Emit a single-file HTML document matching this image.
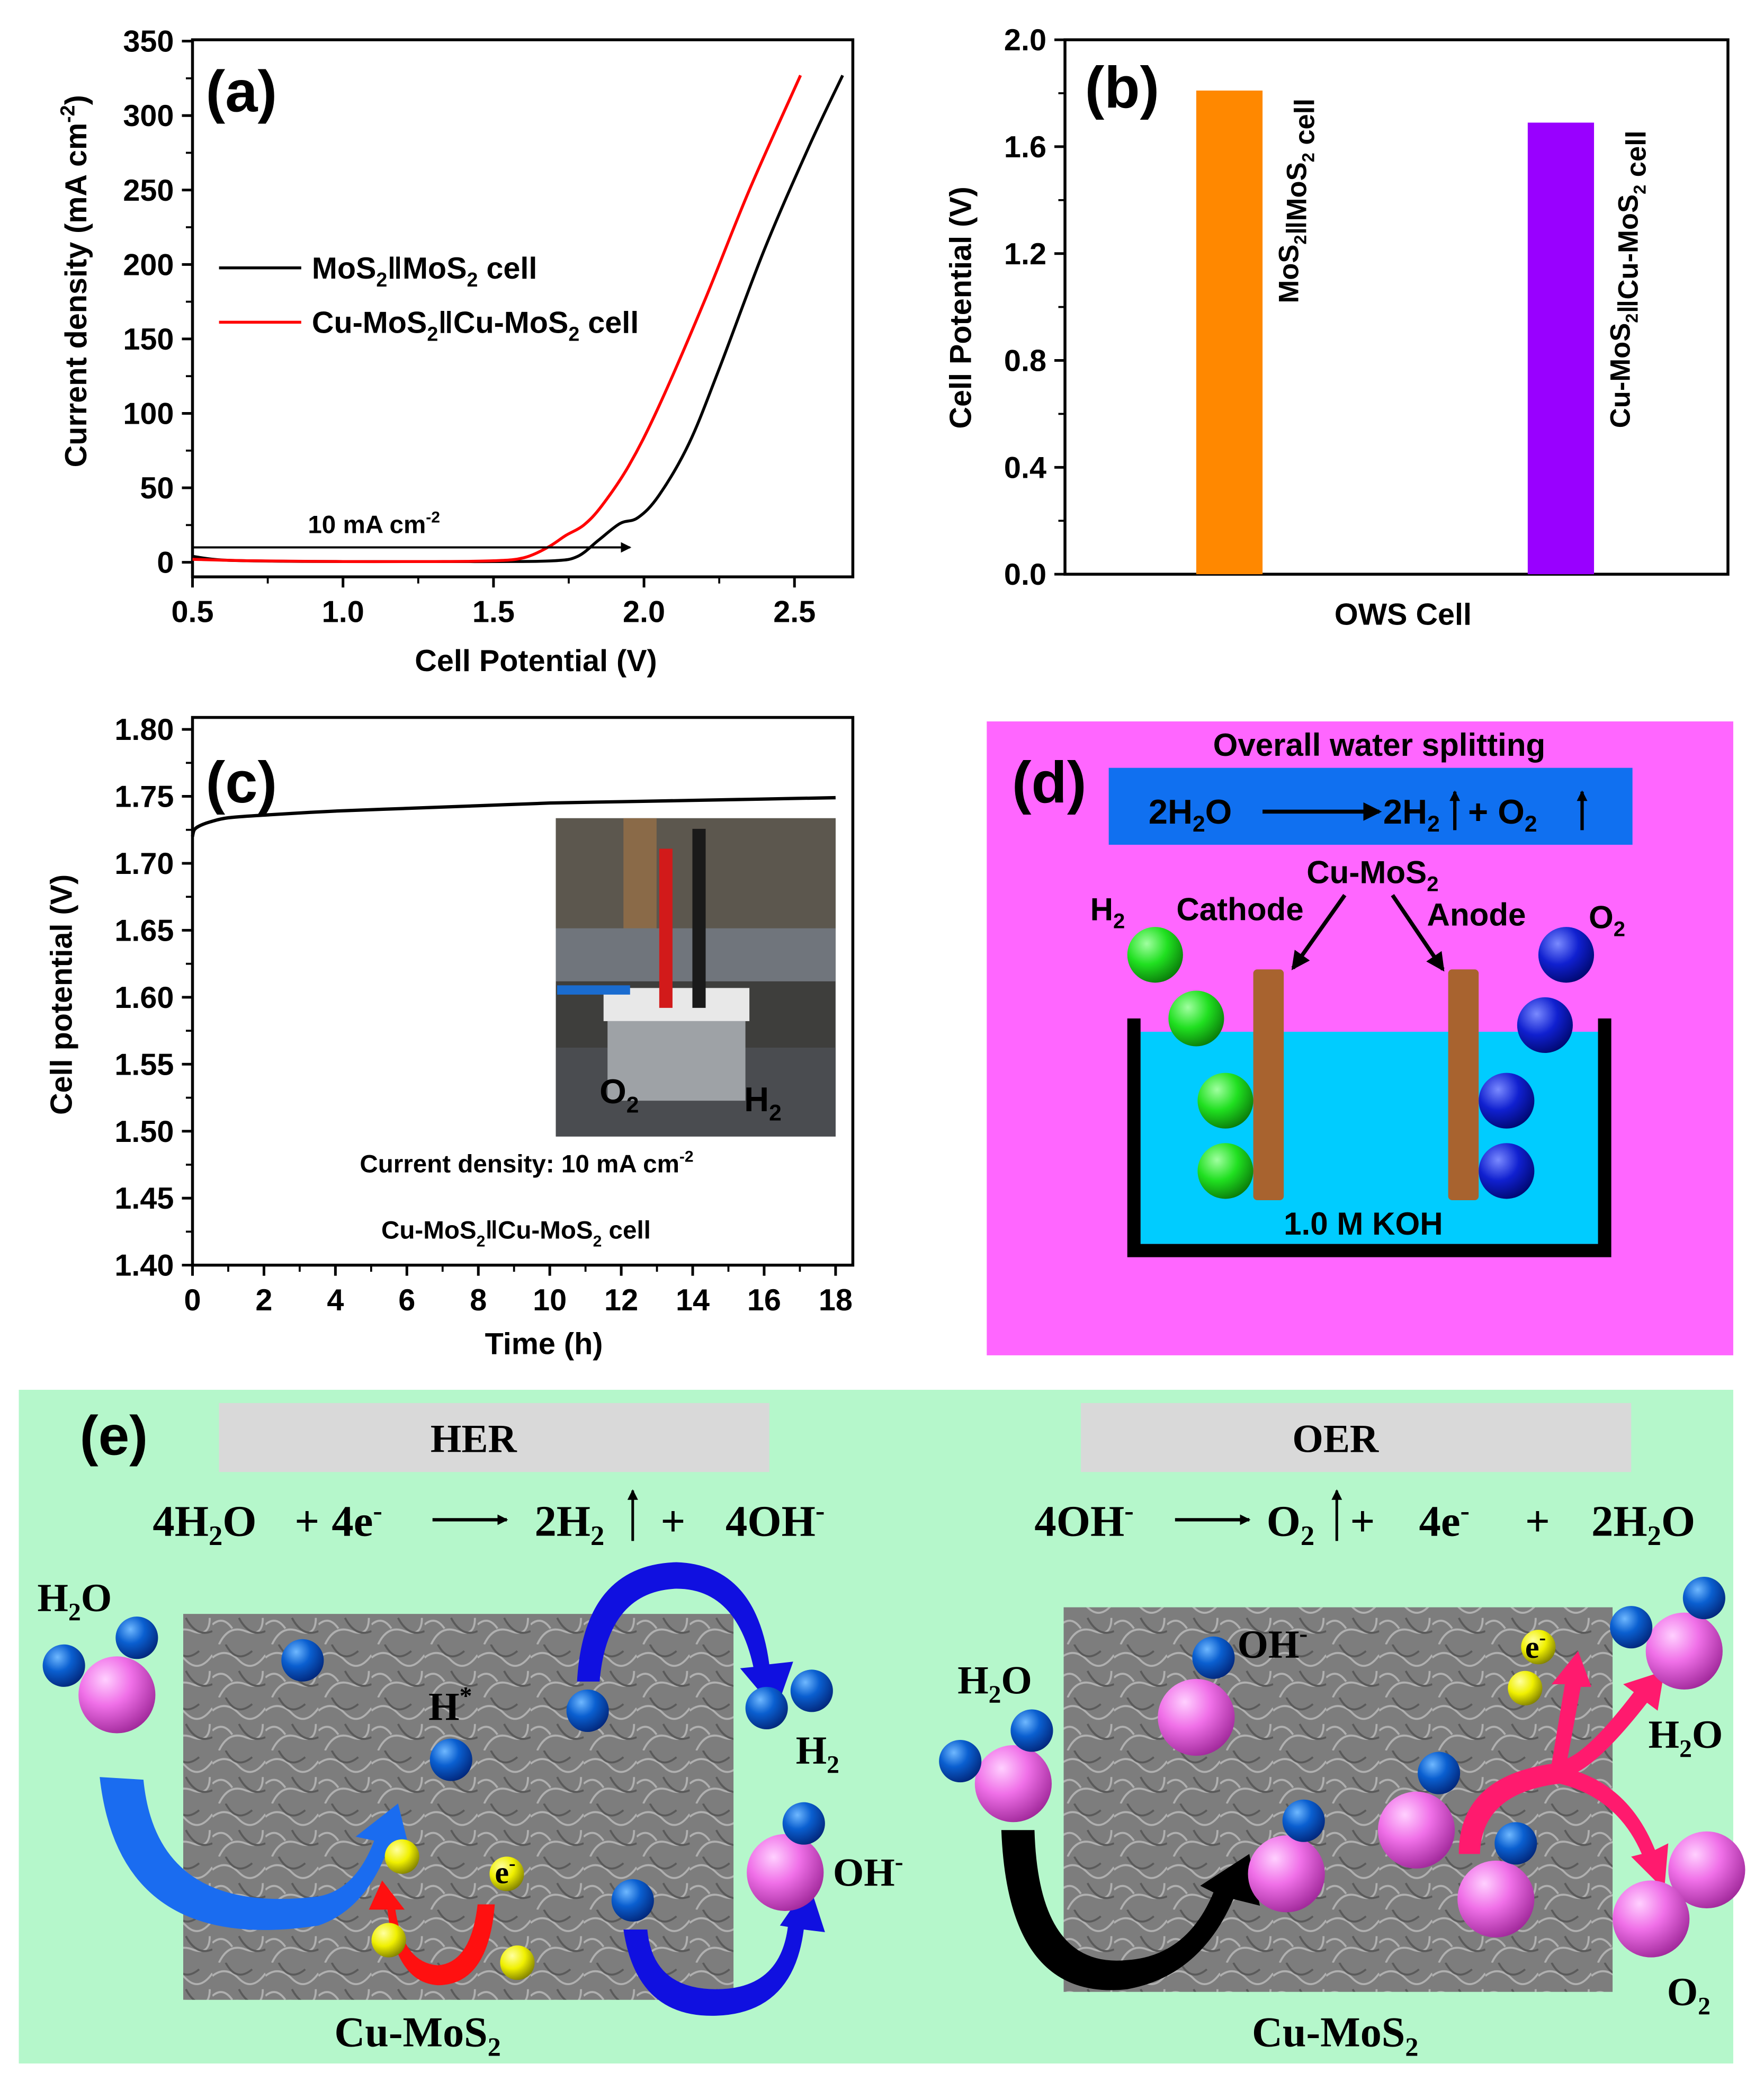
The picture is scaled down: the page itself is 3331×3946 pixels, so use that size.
<!DOCTYPE html>
<html><head><meta charset="utf-8"><style>
html,body{margin:0;padding:0;background:#fff}
svg{display:block}
text{font-family:"Liberation Sans",sans-serif}
.ser{font-family:"Liberation Serif",serif;font-weight:bold}
.b{font-weight:bold}
</style></head><body>
<svg id="fig" width="3331" height="3946" viewBox="0 0 1330 1576" xmlns="http://www.w3.org/2000/svg">
<defs>
<radialGradient id="gBlue" cx="0.35" cy="0.3" r="0.75"><stop offset="0" stop-color="#6fb8ff"/><stop offset="0.45" stop-color="#0a5fd0"/><stop offset="1" stop-color="#02267a"/></radialGradient>
<radialGradient id="gPink" cx="0.35" cy="0.3" r="0.75"><stop offset="0" stop-color="#ffd0ff"/><stop offset="0.45" stop-color="#f070e8"/><stop offset="1" stop-color="#a0289a"/></radialGradient>
<radialGradient id="gYel" cx="0.35" cy="0.3" r="0.75"><stop offset="0" stop-color="#ffffa0"/><stop offset="0.5" stop-color="#f0f000"/><stop offset="1" stop-color="#808000"/></radialGradient>
<radialGradient id="gGreen" cx="0.35" cy="0.3" r="0.75"><stop offset="0" stop-color="#a0ffa0"/><stop offset="0.5" stop-color="#20e020"/><stop offset="1" stop-color="#0a7a0a"/></radialGradient>
<radialGradient id="gDBlue" cx="0.35" cy="0.3" r="0.75"><stop offset="0" stop-color="#7a8aff"/><stop offset="0.5" stop-color="#1020d0"/><stop offset="1" stop-color="#000870"/></radialGradient>
<pattern id="sem" width="40" height="40" patternUnits="userSpaceOnUse">
<rect width="40" height="40" fill="#7d7d7d"/>
<path d="M0 10 Q10 2 20 12 T40 8 M5 40 Q12 25 25 30 T38 20 M0 25 Q8 18 15 28" stroke="#b0b0b0" stroke-width="1.5" fill="none"/>
<path d="M10 0 Q18 15 30 5 M20 20 Q28 35 40 30" stroke="#5a5a5a" stroke-width="1.5" fill="none"/>
</pattern>
<marker id="ah" markerWidth="8" markerHeight="8" refX="7" refY="4" orient="auto" markerUnits="userSpaceOnUse"><path d="M0 0 L8 4 L0 8 Z" fill="#000"/></marker>
<marker id="ahb" markerWidth="14" markerHeight="14" refX="12" refY="7" orient="auto" markerUnits="userSpaceOnUse"><path d="M0 0 L14 7 L0 14 Z" fill="#000"/></marker>
</defs>
<g id="pa"></g>
<g id="pb"></g>
<g id="pc"></g>

<!-- Panel d -->
<g>
<rect x="744" y="544" width="563" height="478" fill="#ff66ff"/>
<text x="763" y="605" font-size="44" class="b">(d)</text>
<text x="1040" y="570" font-size="24" class="b" text-anchor="middle">Overall water splitting</text>
<rect x="836" y="579" width="395" height="58" fill="#1070f0"/>
<text x="866" y="621" font-size="26" class="b">2H<tspan font-size="17" dy="6">2</tspan><tspan dy="-6">O</tspan></text>
<line x1="952" y1="612" x2="1040" y2="612" stroke="#000" stroke-width="3" marker-end="url(#ahb)"/>
<text x="1043" y="621" font-size="26" class="b">2H<tspan font-size="17" dy="6">2</tspan></text>
<text x="1107" y="621" font-size="26" class="b">+ O<tspan font-size="17" dy="6">2</tspan></text>
<line x1="1097" y1="626" x2="1097" y2="597" stroke="#000" stroke-width="2.5" marker-end="url(#ah)"/>
<line x1="1193" y1="626" x2="1193" y2="597" stroke="#000" stroke-width="2.5" marker-end="url(#ah)"/>
<text x="1035" y="666" font-size="24" class="b" text-anchor="middle">Cu-MoS<tspan font-size="16" dy="6">2</tspan></text>
<text x="822" y="694" font-size="24" class="b">H<tspan font-size="16" dy="6">2</tspan></text>
<text x="887" y="694" font-size="24" class="b">Cathode</text>
<text x="1076" y="698" font-size="24" class="b">Anode</text>
<text x="1198" y="700" font-size="24" class="b">O<tspan font-size="16" dy="6">2</tspan></text>
<line x1="1014" y1="675" x2="975" y2="730" stroke="#000" stroke-width="3" marker-end="url(#ahb)"/>
<line x1="1050" y1="675" x2="1088" y2="731" stroke="#000" stroke-width="3" marker-end="url(#ahb)"/>
<rect x="860" y="778" width="345" height="160" fill="#00ccff"/>
<path d="M850 768 H860 V938 H1205 V768 H1215 V948 H850 Z" fill="#000"/>
<rect x="945" y="731" width="23" height="174" rx="3" fill="#a8632f"/>
<rect x="1092" y="731" width="23" height="174" rx="3" fill="#a8632f"/>
<text x="1028" y="931" font-size="24" class="b" text-anchor="middle">1.0 M KOH</text>
<g>
<circle cx="871" cy="720" r="21" fill="url(#gGreen)"/><circle cx="902" cy="768" r="21" fill="url(#gGreen)"/>
<circle cx="924" cy="830" r="21" fill="url(#gGreen)"/><circle cx="924" cy="883" r="21" fill="url(#gGreen)"/></g>
<g>
<circle cx="1181" cy="720" r="21" fill="url(#gDBlue)"/><circle cx="1165" cy="773" r="21" fill="url(#gDBlue)"/>
<circle cx="1136" cy="830" r="21" fill="url(#gDBlue)"/><circle cx="1136" cy="883" r="21" fill="url(#gDBlue)"/></g>
</g>

<!-- Panel e -->
<g>
<rect x="14" y="1048" width="1293" height="508" fill="#b5f7cb"/>
<text x="60" y="1097" font-size="42" class="b">(e)</text>
<rect x="165" y="1058" width="415" height="52" fill="#d9d9d9"/>
<text x="357" y="1095" font-size="30" class="ser" text-anchor="middle">HER</text>
<rect x="815" y="1058" width="415" height="52" fill="#d9d9d9"/>
<text x="1007" y="1095" font-size="30" class="ser" text-anchor="middle">OER</text>
<g font-size="33" class="ser">
<text x="115" y="1158" class="ser">4H<tspan font-size="21" dy="7">2</tspan><tspan dy="-7">O</tspan></text>
<text x="222" y="1158" class="ser">+</text>
<text x="250" y="1158" class="ser">4e<tspan font-size="21" dy="-12">-</tspan></text>
<text x="403" y="1158" class="ser">2H<tspan font-size="21" dy="7">2</tspan></text>
<text x="498" y="1158" class="ser">+</text>
<text x="547" y="1158" class="ser">4OH<tspan font-size="21" dy="-12">-</tspan></text>
</g>
<line x1="326" y1="1146" x2="382" y2="1146" stroke="#000" stroke-width="2.5" marker-end="url(#ah)"/>
<line x1="477" y1="1162" x2="477" y2="1124" stroke="#000" stroke-width="2" marker-end="url(#ah)"/>
<g font-size="33">
<text x="780" y="1158" class="ser">4OH<tspan font-size="21" dy="-12">-</tspan></text>
<text x="955" y="1158" class="ser">O<tspan font-size="21" dy="7">2</tspan></text>
<text x="1018" y="1158" class="ser">+</text>
<text x="1070" y="1158" class="ser">4e<tspan font-size="21" dy="-12">-</tspan></text>
<text x="1150" y="1158" class="ser">+</text>
<text x="1200" y="1158" class="ser">2H<tspan font-size="21" dy="7">2</tspan><tspan dy="-7">O</tspan></text>
</g>
<line x1="886" y1="1146" x2="942" y2="1146" stroke="#000" stroke-width="2.5" marker-end="url(#ah)"/>
<line x1="1008" y1="1162" x2="1008" y2="1124" stroke="#000" stroke-width="2" marker-end="url(#ah)"/>
<rect x="138" y="1217" width="415" height="291" fill="url(#sem)"/>
<rect x="802" y="1212" width="414" height="290" fill="url(#sem)"/>
<path d="M75 1340 Q90 1475 240 1452 Q275 1440 292 1395 L310 1400 L300 1360 L268 1385 L282 1388 Q268 1425 240 1430 Q118 1445 108 1342 Z" fill="#1a6cf0"/>
<path d="M435 1268 Q440 1180 510 1178 Q570 1180 580 1255 L598 1253 L585 1290 L558 1258 L568 1257 Q555 1198 510 1198 Q458 1200 452 1268 Z" fill="#1010e0"/>
<path d="M470 1455 Q480 1522 540 1520 Q598 1518 606 1455 L622 1457 L610 1420 L588 1452 L594 1453 Q588 1500 540 1500 Q492 1500 488 1455 Z" fill="#1010e0"/>
<path d="M373 1436 Q368 1497 330 1497 Q298 1495 292 1440 L278 1440 L288 1418 L305 1440 L298 1440 Q304 1480 330 1482 Q355 1480 360 1436 Z" fill="#ff1010"/>
<g>
<circle cx="88" cy="1278" r="29" fill="url(#gPink)"/><circle cx="48" cy="1256" r="16" fill="url(#gBlue)"/><circle cx="103" cy="1235" r="16" fill="url(#gBlue)"/>
<circle cx="228" cy="1252" r="16" fill="url(#gBlue)"/><circle cx="340" cy="1327" r="16" fill="url(#gBlue)"/>
<circle cx="443" cy="1290" r="16" fill="url(#gBlue)"/><circle cx="578" cy="1288" r="16" fill="url(#gBlue)"/><circle cx="612" cy="1275" r="16" fill="url(#gBlue)"/>
<circle cx="592" cy="1412" r="29" fill="url(#gPink)"/><circle cx="606" cy="1375" r="16" fill="url(#gBlue)"/>
<circle cx="477" cy="1433" r="16" fill="url(#gBlue)"/>
<circle cx="303" cy="1400" r="13" fill="url(#gYel)"/><circle cx="293" cy="1463" r="13" fill="url(#gYel)"/><circle cx="390" cy="1480" r="13" fill="url(#gYel)"/><circle cx="382" cy="1413" r="13" fill="url(#gYel)"/>
</g>
<text x="28" y="1215" font-size="30" class="ser">H<tspan font-size="19" dy="7">2</tspan><tspan dy="-7">O</tspan></text>
<text x="323" y="1297" font-size="30" class="ser">H<tspan font-size="19" dy="-12">*</tspan></text>
<text x="600" y="1330" font-size="30" class="ser">H<tspan font-size="19" dy="7">2</tspan></text>
<text x="628" y="1422" font-size="30" class="ser">OH<tspan font-size="19" dy="-12">-</tspan></text>
<text x="373" y="1420" font-size="24" class="ser">e<tspan font-size="15" dy="-10">-</tspan></text>
<text x="252" y="1543" font-size="32" class="ser">Cu-MoS<tspan font-size="20" dy="7">2</tspan></text>
<path d="M755 1380 Q760 1510 850 1500 Q905 1490 930 1432 L950 1437 L942 1398 L905 1422 L915 1427 Q895 1475 850 1478 Q783 1485 780 1380 Z" fill="#000"/>
<path d="M1100 1398 Q1100 1340 1170 1330 L1180 1270 L1170 1270 L1190 1245 L1200 1272 L1192 1272 L1182 1326 Q1200 1318 1232 1276 L1224 1270 L1255 1260 L1250 1290 L1242 1284 Q1210 1325 1190 1336 Q1230 1350 1248 1395 L1258 1390 L1255 1425 L1230 1400 L1238 1398 Q1220 1356 1176 1345 Q1117 1352 1116 1398 Z" fill="#ff1a6e"/>
<g>
<circle cx="764" cy="1345" r="29" fill="url(#gPink)"/><circle cx="724" cy="1328" r="16" fill="url(#gBlue)"/><circle cx="778" cy="1305" r="16" fill="url(#gBlue)"/>
<circle cx="902" cy="1295" r="29" fill="url(#gPink)"/><circle cx="915" cy="1250" r="16" fill="url(#gBlue)"/>
<circle cx="970" cy="1413" r="29" fill="url(#gPink)"/><circle cx="983" cy="1373" r="16" fill="url(#gBlue)"/>
<circle cx="1068" cy="1380" r="29" fill="url(#gPink)"/><circle cx="1085" cy="1337" r="16" fill="url(#gBlue)"/>
<circle cx="1128" cy="1432" r="29" fill="url(#gPink)"/><circle cx="1143" cy="1390" r="16" fill="url(#gBlue)"/>
<circle cx="1160" cy="1242" r="13" fill="url(#gYel)"/><circle cx="1150" cy="1273" r="13" fill="url(#gYel)"/>
<circle cx="1270" cy="1245" r="29" fill="url(#gPink)"/><circle cx="1230" cy="1227" r="16" fill="url(#gBlue)"/><circle cx="1285" cy="1205" r="16" fill="url(#gBlue)"/>
<circle cx="1287" cy="1410" r="29" fill="url(#gPink)"/><circle cx="1245" cy="1447" r="29" fill="url(#gPink)"/>
</g>
<text x="722" y="1277" font-size="30" class="ser">H<tspan font-size="19" dy="7">2</tspan><tspan dy="-7">O</tspan></text>
<text x="933" y="1250" font-size="30" class="ser">OH<tspan font-size="19" dy="-12">-</tspan></text>
<text x="1150" y="1250" font-size="24" class="ser">e<tspan font-size="15" dy="-10">-</tspan></text>
<text x="1243" y="1318" font-size="30" class="ser">H<tspan font-size="19" dy="7">2</tspan><tspan dy="-7">O</tspan></text>
<text x="1257" y="1512" font-size="30" class="ser">O<tspan font-size="19" dy="7">2</tspan></text>
<text x="944" y="1543" font-size="32" class="ser">Cu-MoS<tspan font-size="20" dy="7">2</tspan></text>
</g>
</svg>
<script>
// Panel a data
const aBlackV=[0.5,0.6,0.8,1.0,1.3,1.5,1.7,1.78,1.85,1.92,1.98,2.05,2.15,2.25,2.4,2.55,2.66];
const aBlackJ=[4,1.5,0.7,0.5,0.5,0.5,1,4,15,26,30,45,80,130,210,280,327];
const aRedV=[0.5,0.7,1.0,1.3,1.5,1.6,1.68,1.74,1.8,1.86,1.95,2.05,2.2,2.35,2.52];
const aRedJ=[2,1,0.5,0.5,1,3,10,18,25,38,65,105,175,250,327];
const aXTicks=["0.5","1.0","1.5","2.0","2.5"];
const aYTicks=["0","50","100","150","200","250","300","350"];
// Panel b data
const bCats=["MoS₂‖MoS₂ cell","Cu-MoS₂‖Cu-MoS₂ cell"];
const bVals=[1.81,1.69];
const bYTicks=["0.0","0.4","0.8","1.2","1.6","2.0"];
// Panel c data
const cT=[0,0.05,0.2,0.5,1,2,4,6,8,10,12,14,16,18];
const cV=[1.72,1.725,1.728,1.731,1.734,1.736,1.739,1.741,1.743,1.745,1.746,1.747,1.748,1.749];
const cXTicks=["0","2","4","6","8","10","12","14","16","18"];
const cYTicks=["1.40","1.45","1.50","1.55","1.60","1.65","1.70","1.75","1.80"];

const NS="http://www.w3.org/2000/svg";
function mk(p,tag,at,txt){const e=document.createElementNS(NS,tag);for(const k in at)e.setAttribute(k,at[k]);if(txt!==undefined)e.textContent=txt;p.appendChild(e);return e;}
function lin(d0,d1,r0,r1){return v=>r0+(v-d0)/(d1-d0)*(r1-r0);}
function smooth(pts){let d="M"+pts[0][0]+" "+pts[0][1];for(let i=1;i<pts.length;i++){const p0=pts[Math.max(0,i-2)],p1=pts[i-1],p2=pts[i],p3=pts[Math.min(pts.length-1,i+1)];const c1x=p1[0]+(p2[0]-p0[0])/6,c1y=p1[1]+(p2[1]-p0[1])/6,c2x=p2[0]-(p3[0]-p1[0])/6,c2y=p2[1]-(p3[1]-p1[1])/6;d+=` C${c1x} ${c1y} ${c2x} ${c2y} ${p2[0]} ${p2[1]}`;}return d;}

// ---- Panel a
(function(){
const g=document.getElementById('pa');
const x=lin(0.5,1.0,145,258.5), y=lin(0,350,424,31);
const fr=mk(g,'rect',{x:145,y:30,width:498,height:405,fill:'none',stroke:'#000','stroke-width':2.2});

aXTicks.forEach((t,i)=>{const v=parseFloat(t);const tx=x(v);
 mk(g,'line',{x1:tx,y1:435,x2:tx,y2:443,stroke:'#000','stroke-width':2});
 if(v+0.25<2.72)mk(g,'line',{x1:x(v+0.25),y1:435,x2:x(v+0.25),y2:440,stroke:'#000','stroke-width':1.5});
 const l=mk(g,'text',{x:tx,y:469,'font-size':23,'font-weight':'bold','text-anchor':'middle'},t);
 });
aYTicks.forEach(t=>{const v=+t,ty=y(v);
 mk(g,'line',{x1:137,y1:ty,x2:145,y2:ty,stroke:'#000','stroke-width':2});
 if(v<350)mk(g,'line',{x1:140,y1:y(v+25),x2:145,y2:y(v+25),stroke:'#000','stroke-width':1.5});
 const l=mk(g,'text',{x:131,y:ty+8,'font-size':23,'font-weight':'bold','text-anchor':'end'},t);
 });
const yl=mk(g,'text',{x:0,y:0,'font-size':23,'font-weight':'bold','text-anchor':'middle',transform:'translate(65,212) rotate(-90)'});
yl.innerHTML='Current density (mA cm<tspan font-size="15" dy="-9">-2</tspan><tspan dy="9">)</tspan>';

const xl=mk(g,'text',{x:404,y:506,'font-size':23,'font-weight':'bold','text-anchor':'middle'},'Cell Potential (V)');

const pl=mk(g,'text',{x:155,y:84,'font-size':44,'font-weight':'bold'},'(a)');

const bl=mk(g,'path',{d:smooth(aBlackV.map((v,i)=>[x(v),y(aBlackJ[i])])),fill:'none',stroke:'#000','stroke-width':2.2});

const rl=mk(g,'path',{d:smooth(aRedV.map((v,i)=>[x(v),y(aRedJ[i])])),fill:'none',stroke:'#f00','stroke-width':2.2});

const ar=mk(g,'line',{x1:145,y1:y(10),x2:475,y2:y(10),stroke:'#000','stroke-width':1.6,'marker-end':'url(#ah)'});

const at=mk(g,'text',{x:232,y:402,'font-size':19,'font-weight':'bold'});at.innerHTML='10 mA cm<tspan font-size="12" dy="-8">-2</tspan>';

[['#000',202,'MoS<tspan font-size="15" dy="6">2</tspan><tspan dy="-6">‖MoS</tspan><tspan font-size="15" dy="6">2</tspan><tspan dy="-6"> cell</tspan>'],
 ['#f00',243,'Cu-MoS<tspan font-size="15" dy="6">2</tspan><tspan dy="-6">‖Cu-MoS</tspan><tspan font-size="15" dy="6">2</tspan><tspan dy="-6"> cell</tspan>']].forEach(e=>{
 const lg=mk(g,'g',{});
 mk(lg,'line',{x1:165,y1:e[1],x2:227,y2:e[1],stroke:e[0],'stroke-width':2.2});
 const t=mk(lg,'text',{x:235,y:e[1]+8,'font-size':23,'font-weight':'bold'});t.innerHTML=e[2];});
})();

// ---- Panel b
(function(){
const g=document.getElementById('pb');
const y=lin(0,2.0,433,30);
mk(g,'rect',{x:803,y:30,width:500,height:403,fill:'none',stroke:'#000','stroke-width':2.2});
bYTicks.forEach(t=>{const v=+t,ty=y(v);
 mk(g,'line',{x1:795,y1:ty,x2:803,y2:ty,stroke:'#000','stroke-width':2});
 if(v<2)mk(g,'line',{x1:798,y1:y(v+0.2),x2:803,y2:y(v+0.2),stroke:'#000','stroke-width':1.5});
 const l=mk(g,'text',{x:789,y:ty+8,'font-size':23,'font-weight':'bold','text-anchor':'end'},t);
 });
const cols=['#ff8800','#9900ff'],cx=[927,1177];
bCats.forEach((c,i)=>{const top=y(bVals[i]);
 const r=mk(g,'rect',{x:cx[i]-25,y:top,width:50,height:433-top,fill:cols[i]});
 
 const parts=c.split('₂');
 const t=mk(g,'text',{x:0,y:0,'font-size':21,'font-weight':'bold','text-anchor':'end',transform:`translate(${cx[i]+52},${top+6}) rotate(-90)`});
 t.innerHTML=parts.map((p,j)=>j<parts.length-1?p+'<tspan font-size="13" dy="6">2</tspan><tspan dy="-6"></tspan>':p).join('');
 });
const yl=mk(g,'text',{x:0,y:0,'font-size':23,'font-weight':'bold','text-anchor':'middle',transform:'translate(732,232) rotate(-90)'},'Cell Potential (V)');

const xl=mk(g,'text',{x:1058,y:471,'font-size':23,'font-weight':'bold','text-anchor':'middle'},'OWS Cell');

const pl=mk(g,'text',{x:818,y:81,'font-size':44,'font-weight':'bold'},'(b)');

})();

// ---- Panel c
(function(){
const g=document.getElementById('pc');
const x=lin(0,18,145,630), y=lin(1.40,1.80,954,550);
const ph=mk(g,'g',{});
mk(ph,'rect',{x:419,y:617,width:211,height:240,fill:'#3e3e3c'});
mk(ph,'rect',{x:419,y:617,width:211,height:85,fill:'#5c574e'});
mk(ph,'rect',{x:470,y:617,width:25,height:110,fill:'#8a6a48'});
mk(ph,'rect',{x:419,y:700,width:211,height:40,fill:'#70757c'});
mk(ph,'rect',{x:419,y:790,width:211,height:67,fill:'#4a4c50'});
mk(ph,'rect',{x:455,y:745,width:110,height:25,fill:'#e8e8e8'});
mk(ph,'rect',{x:458,y:770,width:104,height:60,fill:'#9ea2a6'});
mk(ph,'rect',{x:497,y:640,width:10,height:120,fill:'#d21a1a'});
mk(ph,'rect',{x:522,y:625,width:10,height:135,fill:'#1a1a1a'});
mk(ph,'rect',{x:420,y:743,width:55,height:7,fill:'#1a6cd0'});
const ot=mk(ph,'text',{x:452,y:832,'font-size':26,'font-weight':'bold'});ot.innerHTML='O<tspan font-size="17" dy="7">2</tspan>';
const ht=mk(ph,'text',{x:561,y:838,'font-size':26,'font-weight':'bold'});ht.innerHTML='H<tspan font-size="17" dy="7">2</tspan>';
mk(g,'rect',{x:145,y:541,width:498,height:413,fill:'none',stroke:'#000','stroke-width':2.2});
cXTicks.forEach(t=>{const v=+t,tx=x(v);
 mk(g,'line',{x1:tx,y1:954,x2:tx,y2:962,stroke:'#000','stroke-width':2});
 if(v<18)mk(g,'line',{x1:x(v+1),y1:954,x2:x(v+1),y2:959,stroke:'#000','stroke-width':1.5});
 const l=mk(g,'text',{x:tx,y:988,'font-size':23,'font-weight':'bold','text-anchor':'middle'},t);
 });
cYTicks.forEach(t=>{const v=+t,ty=y(v);
 mk(g,'line',{x1:137,y1:ty,x2:145,y2:ty,stroke:'#000','stroke-width':2});
 if(v<1.8)mk(g,'line',{x1:140,y1:y(v+0.025),x2:145,y2:y(v+0.025),stroke:'#000','stroke-width':1.5});
 const l=mk(g,'text',{x:131,y:ty+8,'font-size':23,'font-weight':'bold','text-anchor':'end'},t);
 });
const cl=mk(g,'path',{d:smooth(cT.map((t,i)=>[x(t),y(cV[i])])),fill:'none',stroke:'#000','stroke-width':2.5});

const yl=mk(g,'text',{x:0,y:0,'font-size':23,'font-weight':'bold','text-anchor':'middle',transform:'translate(54,750) rotate(-90)'},'Cell potential (V)');

const xl=mk(g,'text',{x:410,y:1021,'font-size':23,'font-weight':'bold','text-anchor':'middle'},'Time (h)');

const pl=mk(g,'text',{x:155,y:605,'font-size':44,'font-weight':'bold'},'(c)');

const a1=mk(g,'text',{x:397,y:884,'font-size':19,'font-weight':'bold','text-anchor':'middle'});a1.innerHTML='Current density: 10 mA cm<tspan font-size="12" dy="-8">-2</tspan>';

const a2=mk(g,'text',{x:389,y:934,'font-size':19,'font-weight':'bold','text-anchor':'middle'});a2.innerHTML='Cu-MoS<tspan font-size="12" dy="6">2</tspan><tspan dy="-6">‖Cu-MoS</tspan><tspan font-size="12" dy="6">2</tspan><tspan dy="-6"> cell</tspan>';

})();
</script>
</body></html>
